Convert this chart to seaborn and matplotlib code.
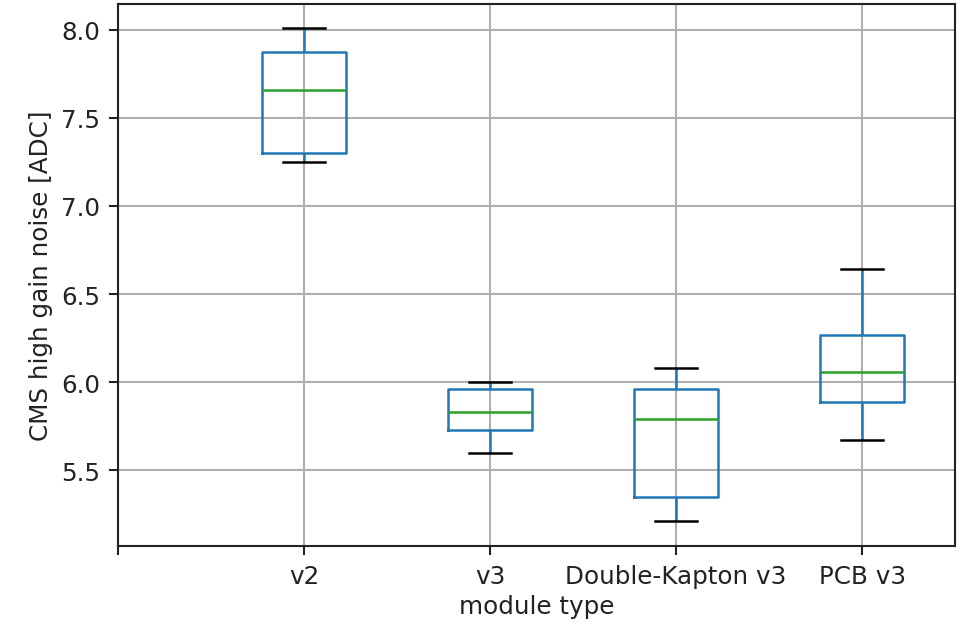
import numpy as np
import pandas as pd
import matplotlib
matplotlib.use("Agg")
import matplotlib.pyplot as plt
import seaborn as sns

# Module types and their five-number summaries of CMS high gain noise [ADC]
module_types = ["v2", "v3", "Double-Kapton v3", "PCB v3"]
whisker_low = [7.25, 5.60, 5.21, 5.67]
quartile_1 = [7.30, 5.73, 5.35, 5.89]
medians = [7.66, 5.83, 5.79, 6.06]
quartile_3 = [7.87, 5.96, 5.96, 6.27]
whisker_high = [8.01, 6.00, 6.08, 6.64]

rows = []
for i, name in enumerate(module_types):
    for v in (whisker_low[i], quartile_1[i], medians[i], quartile_3[i], whisker_high[i]):
        rows.append({"module type": name, "noise": v})
df = pd.DataFrame(rows)

plt.rcParams["font.family"] = ["DejaVu Sans"]
plt.rcParams["font.size"] = 11.8

dpi = 150
fig = plt.figure(figsize=(959 / dpi, 626 / dpi), dpi=dpi)
ax = fig.add_axes([0.123, 0.126, 0.873, 0.866])

sns.boxplot(
    data=df, x="module type", y="noise", order=module_types, ax=ax,
    width=0.45, fill=False, linewidth=1.2, whis=1.5, showfliers=False,
    boxprops=dict(color="#1f77b4"),
    whiskerprops=dict(color="#1f77b4"),
    capprops=dict(color="black"),
    medianprops=dict(color="#2ca02c"),
)

ax.set_xticks([-1, 0, 1, 2, 3])
ax.set_xticklabels([""] + module_types)
ax.set_xlim(-1, 3.5)
ax.set_ylim(5.07, 8.145)
ax.set_yticks([5.5, 6.0, 6.5, 7.0, 7.5, 8.0])
ax.grid(True, color="#b0b0b0", linewidth=1.0)
ax.set_axisbelow(True)
for s in ax.spines.values():
    s.set_visible(True)
    s.set_color("#222222")
    s.set_linewidth(1.0)
ax.tick_params(direction="out", length=4.5, width=1.0, color="#222222",
               labelcolor="#222222", pad=4)
ax.set_xlabel("module type", color="#222222", labelpad=3)
ax.set_ylabel("CMS high gain noise [ADC]", color="#222222", labelpad=4)

fig.savefig("out.png", dpi=dpi)
